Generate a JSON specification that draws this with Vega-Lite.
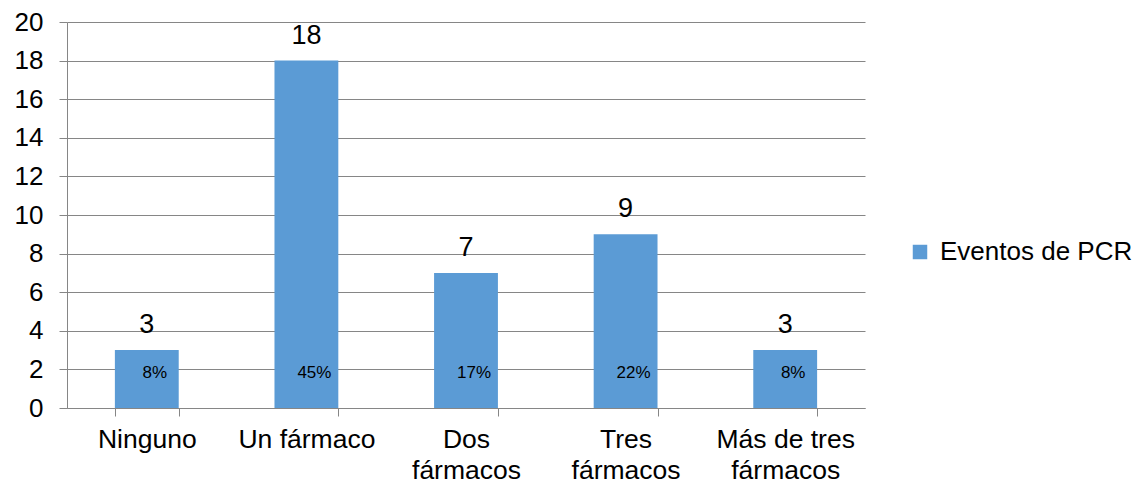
{
  "$schema": "https://vega.github.io/schema/vega-lite/v6.json",
  "width": 798,
  "height": 386,
  "autosize": "none",
  "padding": {"left": 67, "top": 22, "right": 275, "bottom": 76},
  "config": {
    "view": {"stroke": null},
    "font": "Liberation Sans",
    "axis": {"labelColor": "#000000", "labelFont": "Liberation Sans"}
  },
  "data": {
    "values": [
      {"cat": "Ninguno", "eventos": 3, "pct": "8%"},
      {"cat": "Un fármaco", "eventos": 18, "pct": "45%"},
      {"cat": "Dos fármacos", "eventos": 7, "pct": "17%"},
      {"cat": "Tres fármacos", "eventos": 9, "pct": "22%"},
      {"cat": "Más de tres fármacos", "eventos": 3, "pct": "8%"}
    ]
  },
  "encoding": {
    "x": {
      "field": "cat",
      "type": "nominal",
      "sort": null,
      "scale": {"paddingInner": 0.6, "paddingOuter": 0.3},
      "axis": {
        "title": null,
        "labelAngle": 0,
        "labelFontSize": 26.5,
        "labelPadding": 10,
        "labelLineHeight": 31,
        "labelBaseline": "top",
        "labelLimit": 0,
        "labelOverlap": false,
        "tickBand": "extent",
        "tickSize": 8,
        "tickColor": "#868686",
        "domainColor": "#868686",
        "grid": false,
        "labelExpr": "datum.value == 'Dos fármacos' ? ['Dos','fármacos'] : datum.value == 'Tres fármacos' ? ['Tres','fármacos'] : datum.value == 'Más de tres fármacos' ? ['Más de tres','fármacos'] : datum.label"
      }
    },
    "y": {
      "field": "eventos",
      "type": "quantitative",
      "scale": {"domain": [0, 20], "nice": false},
      "axis": {
        "title": null,
        "values": [0, 2, 4, 6, 8, 10, 12, 14, 16, 18, 20],
        "tickCount": 20,
        "labelOverlap": false,
        "labelFontSize": 26,
        "labelPadding": 16,
        "tickSize": 8,
        "tickColor": "#868686",
        "domainColor": "#868686",
        "gridColor": "#868686",
        "grid": true
      }
    }
  },
  "layer": [
    {
      "mark": {"type": "bar"},
      "encoding": {
        "color": {
          "datum": "Eventos de PCR",
          "type": "nominal",
          "scale": {"range": ["#5B9BD5"]},
          "legend": {
            "title": null,
            "orient": "none",
            "legendX": 840,
            "legendY": 217,
            "padding": 0,
            "symbolType": "square",
            "symbolSize": 210,
            "symbolStrokeWidth": 0,
            "labelFontSize": 26,
            "labelLimit": 0,
            "labelOffset": 7,
            "labelColor": "#000000"
          }
        }
      }
    },
    {
      "mark": {"type": "text", "dy": -17, "baseline": "alphabetic", "fontSize": 27, "color": "#000000"},
      "encoding": {
        "text": {"field": "eventos", "type": "quantitative"}
      }
    },
    {
      "mark": {"type": "text", "dx": 8, "baseline": "middle", "fontSize": 17, "color": "#000000"},
      "encoding": {
        "y": {"datum": 1.8},
        "text": {"field": "pct", "type": "nominal"}
      }
    }
  ]
}
